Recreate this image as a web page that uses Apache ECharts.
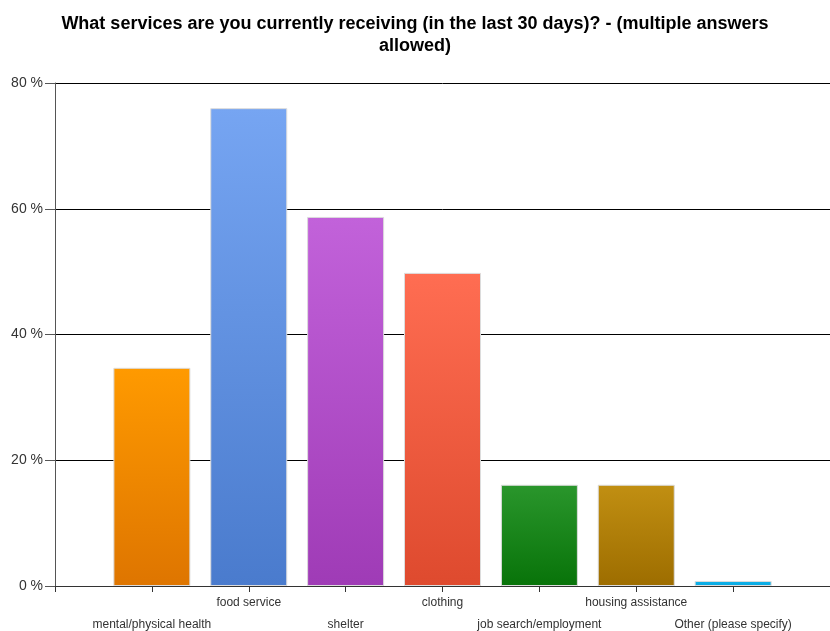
<!DOCTYPE html>
<html>
<head>
<meta charset="utf-8">
<script src="https://cdn.jsdelivr.net/npm/echarts@6/dist/echarts.min.js"></script>
<style>
html,body{margin:0;padding:0;background:#fff;overflow:hidden;}
#chart{width:830px;height:631px;}
</style>
</head>
<body>
<div id="chart"></div>
<script>
var categories = ['mental/physical health', 'food service', 'shelter', 'clothing', 'job search/employment', 'housing assistance', 'Other (please specify)'];
var values = [34.7, 76.0, 58.7, 49.8, 16.1, 16.1, 0.8];
var yTicks = [0, 20, 40, 60, 80];
var colorTop = ['#ff9a00', '#76a5f2', '#c262da', '#ff6d52', '#2a962c', '#c18f12', '#0db3ec'];
var colorBottom = ['#de7500', '#4a7bcd', '#9f3bb6', '#de4a2e', '#087309', '#9d6d00', '#0aa8e0'];

var axisCats = [''].concat(categories).concat(['']);
var barData = [null];
for (var i = 0; i < values.length; i++) {
  barData.push({
    value: values[i],
    itemStyle: {
      color: new echarts.graphic.LinearGradient(0, 0, 0, 1, [
        {offset: 0, color: colorTop[i]},
        {offset: 1, color: colorBottom[i]}
      ]),
      borderColor: '#dcdcdc',
      borderWidth: 1
    }
  });
}
barData.push(null);

var chart = echarts.init(document.getElementById('chart'));
chart.setOption({
  animation: false,
  title: {
    text: 'What services are you currently receiving (in the last 30 days)? - (multiple answers\nallowed)',
    left: 'center',
    top: 8,
    textStyle: {fontFamily: 'Liberation Sans, Arial', fontWeight: 'bold', fontSize: 18, color: '#000', lineHeight: 22}
  },
  grid: {left: 55, right: 0, top: 83, bottom: 45, containLabel: false, outerBoundsMode: 'none'},
  xAxis: {
    type: 'category',
    data: axisCats,
    boundaryGap: false,
    axisLine: {show: true, lineStyle: {color: '#333', width: 1}},
    axisTick: {show: true, length: 6, interval: 0, lineStyle: {color: '#333'}},
    axisLabel: {
      interval: 0,
      margin: 6,
      fontFamily: 'Liberation Sans, Arial',
      fontSize: 12,
      color: '#333',
      lineHeight: 22,
      formatter: function (v, idx) { return (idx % 2 === 1) ? '\n' + v : v; }
    },
    splitLine: {show: false}
  },
  yAxis: {
    type: 'value',
    min: yTicks[0],
    max: yTicks[yTicks.length - 1],
    interval: 20,
    axisLine: {show: true, lineStyle: {color: '#555', width: 1}},
    axisTick: {show: true, length: 10, lineStyle: {color: '#555'}},
    axisLabel: {
      margin: 12,
      fontFamily: 'Liberation Sans, Arial',
      fontSize: 14,
      color: '#333',
      formatter: '{value} %'
    },
    splitLine: {show: true, lineStyle: {color: '#000', width: 1}}
  },
  series: [{
    type: 'bar',
    data: barData,
    barWidth: 77
  }]
});
</script>
</body>
</html>
